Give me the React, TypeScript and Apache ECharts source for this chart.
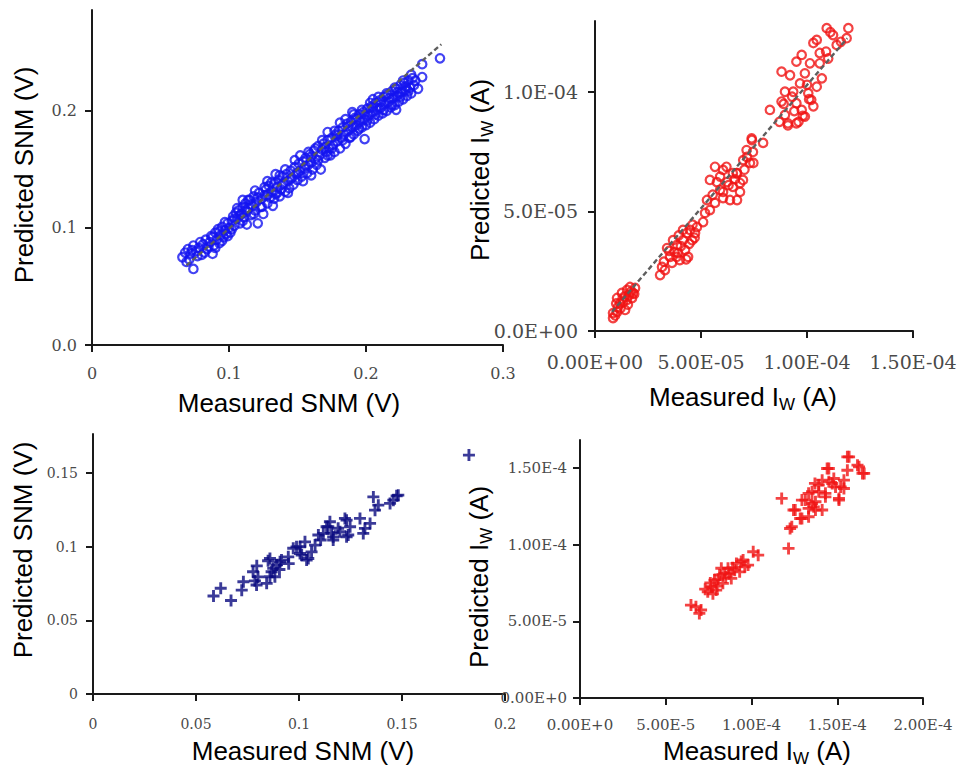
import React, { useEffect, useRef } from "react";
import * as echarts from "echarts";

// ---------- Panel 1: Measured vs Predicted SNM (V), blue circles ----------
const p1Points: [number, number][] = [
  [0.066,0.075],[0.068,0.079],[0.070,0.082],[0.071,0.073],[0.072,0.078],[0.074,0.065],[0.074,0.085],[0.076,0.080],
  [0.078,0.083],[0.080,0.077],[0.081,0.086],[0.083,0.090],[0.084,0.082],[0.086,0.088],[0.087,0.093],[0.088,0.078],
  [0.089,0.085],[0.090,0.096],[0.091,0.090],[0.092,0.099],[0.093,0.087],[0.094,0.094],[0.095,0.101],[0.096,0.092],
  [0.097,0.098],[0.098,0.095],[0.099,0.104],[0.100,0.100],[0.101,0.096],[0.102,0.106],[0.103,0.110],[0.104,0.102],
  [0.105,0.113],[0.106,0.108],[0.107,0.115],[0.108,0.104],[0.109,0.112],[0.110,0.118],[0.111,0.109],[0.112,0.121],
  [0.113,0.103],[0.113,0.114],[0.114,0.117],[0.115,0.124],[0.116,0.111],[0.117,0.119],[0.118,0.127],[0.119,0.115],
  [0.120,0.122],[0.121,0.104],[0.122,0.130],[0.123,0.118],[0.124,0.125],[0.125,0.112],[0.126,0.128],[0.127,0.133],
  [0.128,0.121],[0.129,0.136],[0.130,0.126],[0.131,0.131],[0.132,0.119],[0.133,0.138],[0.134,0.129],[0.135,0.135],
  [0.136,0.141],[0.137,0.127],[0.138,0.133],[0.139,0.144],[0.140,0.138],[0.141,0.131],[0.142,0.146],[0.143,0.140],
  [0.144,0.134],[0.145,0.149],[0.146,0.143],[0.147,0.137],[0.148,0.152],[0.149,0.146],[0.150,0.141],[0.151,0.155],
  [0.152,0.149],[0.153,0.144],[0.154,0.157],[0.155,0.151],[0.156,0.160],[0.157,0.147],[0.158,0.154],[0.159,0.163],
  [0.160,0.156],[0.161,0.150],[0.162,0.166],[0.163,0.159],[0.164,0.154],[0.165,0.170],[0.166,0.162],[0.167,0.150],
  [0.168,0.167],[0.169,0.172],[0.170,0.160],[0.171,0.165],[0.172,0.175],[0.173,0.168],[0.174,0.162],[0.175,0.177],
  [0.176,0.171],[0.177,0.165],[0.178,0.180],[0.179,0.174],[0.180,0.183],[0.181,0.168],[0.182,0.177],[0.183,0.186],
  [0.184,0.180],[0.185,0.172],[0.186,0.189],[0.187,0.183],[0.188,0.177],[0.189,0.191],[0.190,0.186],[0.191,0.180],
  [0.192,0.194],[0.193,0.188],[0.194,0.183],[0.195,0.197],[0.196,0.191],[0.197,0.186],[0.198,0.199],[0.199,0.176],
  [0.199,0.193],[0.200,0.188],[0.201,0.202],[0.202,0.196],[0.203,0.190],[0.204,0.204],[0.205,0.199],[0.206,0.193],
  [0.207,0.207],[0.208,0.201],[0.209,0.196],[0.210,0.209],[0.211,0.203],[0.212,0.198],[0.213,0.212],[0.214,0.206],
  [0.215,0.200],[0.216,0.214],[0.217,0.208],[0.218,0.203],[0.219,0.217],[0.220,0.211],[0.221,0.205],[0.222,0.201],
  [0.222,0.219],[0.223,0.213],[0.224,0.208],[0.225,0.222],[0.226,0.216],[0.227,0.210],[0.228,0.224],[0.229,0.218],
  [0.230,0.213],[0.231,0.226],[0.232,0.220],[0.233,0.215],[0.234,0.228],[0.235,0.222],[0.241,0.229],[0.241,0.240],
  [0.254,0.245],
  [0.069,0.071],[0.073,0.081],[0.077,0.076],[0.079,0.088],[0.082,0.079],[0.085,0.084],[0.088,0.092],[0.090,0.083],
  [0.093,0.097],[0.095,0.089],[0.097,0.105],[0.099,0.093],[0.102,0.099],[0.104,0.108],[0.106,0.117],[0.108,0.111],
  [0.110,0.106],[0.112,0.115],[0.114,0.124],[0.116,0.120],[0.118,0.112],[0.119,0.132],[0.121,0.126],[0.124,0.118],
  [0.126,0.135],[0.128,0.128],[0.131,0.139],[0.133,0.125],[0.135,0.130],[0.137,0.145],[0.139,0.137],[0.141,0.150],
  [0.143,0.130],[0.145,0.142],[0.148,0.158],[0.150,0.147],[0.152,0.162],[0.154,0.140],[0.156,0.153],[0.158,0.165],
  [0.160,0.161],[0.163,0.168],[0.165,0.158],[0.168,0.175],[0.170,0.169],[0.172,0.162],[0.175,0.168],[0.177,0.183],
  [0.179,0.179],[0.181,0.190],[0.183,0.175],[0.185,0.193],[0.187,0.187],[0.189,0.178],[0.191,0.197],[0.193,0.193],
  [0.195,0.185],[0.197,0.201],[0.199,0.197],[0.201,0.192],[0.203,0.207],[0.205,0.203],[0.207,0.197],[0.209,0.212],
  [0.211,0.208],[0.213,0.201],[0.215,0.215],[0.217,0.211],[0.219,0.205],[0.221,0.220],[0.223,0.216],[0.225,0.212],
  [0.227,0.226],[0.229,0.221],[0.231,0.217],[0.233,0.231],[0.236,0.226],[0.238,0.219],[0.172,0.182],[0.190,0.199],
  [0.205,0.210],[0.160,0.145],[0.128,0.140],[0.134,0.146],[0.110,0.124],
];
const p1Fit: [number, number][] = [[0.069, 0.068], [0.255, 0.257]];
const p1XTicks = [0, 0.1, 0.2, 0.3];
const p1XLabels = ["0", "0.1", "0.2", "0.3"];
const p1YTicks = [0, 0.1, 0.2];
const p1YLabels = ["0.0", "0.1", "0.2"];

// ---------- Panel 2: Measured vs Predicted I_W (A), red circles (values in 1e-5 A) ----------
const p2PointsE5: [number, number][] = [
  [0.85,0.54],[0.85,0.75],[1.04,0.8],[1.18,1.17],[1.51,1.3],[1.79,1.59],[1.65,1.84],[1.27,1.59],[1.04,1.38],[1.89,1.8],
  [1.42,0.88],[1.08,1.0],[1.51,1.72],[1.32,1.21],[1.75,1.38],[0.95,0.65],[1.2,0.95],[1.6,1.5],[1.4,1.45],[1.7,1.65],
  [1.55,1.1],[1.3,1.35],[1.0,1.15],[1.85,1.55],
  [3.07,2.34],[3.3,2.55],[3.16,2.68],[3.54,3.1],[3.92,3.26],[3.4,3.47],[3.87,3.6],[4.15,3.8],[3.68,3.8],[4.34,4.1],
  [4.48,4.23],[4.58,3.8],[4.39,3.1],[4.0,2.97],[4.25,3.39],[4.72,4.1],[4.81,4.35],[5.1,4.56],[4.15,4.23],[3.63,2.85],
  [3.75,3.3],[4.05,3.55],[4.45,3.65],[3.95,4.0],[4.6,4.45],[3.5,3.35],[4.3,3.0],[3.85,3.1],[4.7,3.9],[3.25,2.9],
  [5.19,4.94],[5.42,5.06],[5.28,5.48],[5.66,5.36],[6.04,5.56],[6.04,5.82],[6.7,5.48],[6.37,5.48],[6.84,5.82],[6.5,6.03],
  [5.75,6.23],[6.23,6.23],[6.98,6.32],[5.42,6.32],[5.66,6.87],[6.04,6.74],[6.5,6.6],[6.7,6.6],[6.84,6.19],[6.68,6.6],
  [5.9,6.46],[6.2,6.87],[7.31,7.03],[7.47,7.03],[6.99,7.15],[7.17,7.28],[7.45,7.49],[7.15,7.57],[7.4,7.99],[7.39,8.06],
  [7.93,7.87],[5.9,5.9],[6.3,6.1],[6.6,6.35],[7.05,6.75],[5.55,5.7],
  [8.25,9.25],[8.7,8.75],[9.1,8.6],[9.6,8.75],[9.1,8.69],[9.5,8.69],[8.96,9.04],[9.9,8.97],[9.8,9.0],[9.75,9.25],
  [10.3,9.4],[8.9,9.5],[9.5,9.53],[8.8,9.6],[10.2,9.67],[10.1,9.7],[8.96,10.01],[9.35,10.01],[10.06,9.95],[9.67,10.36],
  [10.46,10.22],[10.7,10.57],[9.2,10.7],[9.9,10.78],[8.8,10.85],[10.14,11.2],[10.6,11.2],[9.5,11.27],[9.75,11.55],
  [10.6,11.63],[10.9,11.69],[11.4,11.97],[10.3,12.05],[10.46,12.18],[11.23,12.38],[11.87,12.25],[10.93,12.67],
  [11.95,12.67],[11.1,12.5],[11.6,12.1],[11.0,11.4],[9.3,9.8],[10.0,10.3],[9.4,9.2],
];
const p2FitE5: [number, number][] = [[0.8, 0.8], [11.9, 12.25]];
const p2XTicks = [0, 5e-5, 1e-4, 1.5e-4];
const p2XLabels = ["0.00E+00", "5.00E-05", "1.00E-04", "1.50E-04"];
const p2YTicks = [0, 5e-5, 1e-4];
const p2YLabels = ["0.0E+00", "5.0E-05", "1.0E-04"];

// ---------- Panel 3: Measured vs Predicted SNM (V), navy crosses ----------
const p3Points: [number, number][] = [
  [0.0585,0.0665],[0.062,0.0718],[0.067,0.0635],[0.0722,0.0705],[0.073,0.0762],[0.0777,0.083],[0.0795,0.087],
  [0.0786,0.0768],[0.0801,0.0795],[0.0794,0.074],[0.0843,0.0751],[0.0859,0.092],[0.0867,0.083],[0.0859,0.0796],
  [0.0891,0.0875],[0.0883,0.0796],[0.0875,0.0853],[0.0915,0.0909],[0.0908,0.0898],[0.0948,0.0931],[0.0972,0.0989],
  [0.0988,0.0999],[0.1005,0.0954],[0.1013,0.0943],[0.1029,0.1033],[0.1061,0.0965],[0.1037,0.0909],[0.1045,0.092],
  [0.1078,0.1011],[0.1094,0.1079],[0.1118,0.109],[0.1134,0.1135],[0.1142,0.1135],[0.115,0.1169],[0.1158,0.109],
  [0.1166,0.1045],[0.1166,0.1067],[0.1199,0.1101],[0.1223,0.1192],[0.1231,0.1067],[0.1231,0.118],[0.1248,0.1135],
  [0.1239,0.1079],[0.1296,0.1192],[0.132,0.1124],[0.1312,0.109],[0.1345,0.1158],[0.1361,0.1338],[0.1369,0.1248],
  [0.1385,0.1282],[0.1442,0.1294],[0.1458,0.1316],[0.1482,0.135],[0.1474,0.1345],[0.1825,0.1622],
  [0.095,0.0885],[0.1005,0.1],[0.1105,0.1045],[0.119,0.1125],[0.085,0.0905],[0.0905,0.0845],
];
const p3XTicks = [0, 0.05, 0.1, 0.15, 0.2];
const p3XLabels = ["0", "0.05", "0.1", "0.15", "0.2"];
const p3YTicks = [0, 0.05, 0.1, 0.15];
const p3YLabels = ["0", "0.05", "0.1", "0.15"];

// ---------- Panel 4: Measured vs Predicted I_W (A), red crosses (values in 1e-5 A) ----------
const p4PointsE5: [number, number][] = [
  [6.47,6.06],[6.76,5.95],[6.96,5.52],[7.06,5.74],[7.45,6.93],[7.65,7.26],[7.94,7.04],[7.84,7.69],[8.14,8.02],
  [8.33,7.48],[8.43,8.13],[8.24,8.46],[8.63,8.46],[8.82,7.8],[9.02,8.34],[9.12,8.78],[9.31,8.23],[9.51,9.0],
  [9.61,8.56],[9.8,8.67],[10.1,9.54],[10.39,9.32],[7.6,7.5],[8.0,7.3],[8.5,7.9],[7.75,6.8],[8.9,8.5],[9.4,8.9],
  [8.7,8.1],[7.3,7.1],[8.05,7.75],
  [11.76,13.02],[12.16,9.76],[12.25,11.06],[12.35,11.17],[12.55,12.26],[12.45,12.26],[12.84,11.71],[12.94,11.71],
  [13.33,12.37],[13.14,12.91],[13.53,13.45],[13.73,12.8],[13.92,13.89],[14.12,12.26],[14.31,13.35],[14.51,14.1],
  [14.9,13.77],[14.41,14.97],[15.1,13.02],[15.39,13.67],[14.8,14.32],[15.59,15.73],[16.18,15.19],[15.59,14.86],
  [16.47,14.65],[13.7,14.0],[12.94,12.91],[13.33,11.82],[13.63,12.47],[13.33,13.35],[13.73,12.26],[14.51,14.97],
  [15.1,12.91],[15.69,15.73],[16.27,15.08],[16.57,14.65],[15.39,14.21],[15.2,13.77],[14.71,13.99],[14.12,14.21],
  [13.92,13.45],[13.53,12.69],[14.31,13.12],
];
const p4XTicks = [0, 5e-5, 1e-4, 1.5e-4, 2e-4];
const p4XLabels = ["0.00E+0", "5.00E-5", "1.00E-4", "1.50E-4", "2.00E-4"];
const p4YTicks = [0, 5e-5, 1e-4, 1.5e-4];
const p4YLabels = ["0.00E+0", "5.00E-5", "1.00E-4", "1.50E-4"];

const E5 = 1e-5;
const scaleE5 = (pts: [number, number][]) => pts.map(([x, y]) => [x * E5, y * E5]);

const PLUS = "path://M3.8,0H6.2V3.8H10V6.2H6.2V10H3.8V6.2H0V3.8H3.8Z";

function labelFor(ticks: number[], labels: string[]) {
  return (v: number) => {
    const i = ticks.findIndex((t) => Math.abs(t - v) <= Math.abs(t) * 1e-6 + 1e-15);
    return i >= 0 ? labels[i] : "";
  };
}

function makeAxis(
  gridIndex: number,
  min: number,
  max: number,
  ticks: number[],
  labels: string[],
  fontSize: number,
  margin: number
) {
  return {
    type: "value",
    gridIndex,
    min,
    max,
    splitLine: { show: false },
    axisLine: { show: true, onZero: false, lineStyle: { color: "#1a1a1a", width: 2 } },
    axisTick: { show: true, inside: false, length: 7, customValues: ticks, lineStyle: { color: "#1a1a1a", width: 2 } },
    axisLabel: {
      show: true,
      customValues: ticks,
      formatter: labelFor(ticks, labels),
      fontFamily: "DejaVu Serif",
      fontSize,
      color: "#4a4a4a",
      margin,
      hideOverlap: false,
    },
  };
}

const TITLE_FONT = "Liberation Sans";
const titleRich = {
  m: { fontFamily: TITLE_FONT, fontSize: 26, color: "#111", lineHeight: 32, verticalAlign: "middle" },
  sub: { fontFamily: TITLE_FONT, fontSize: 17, color: "#111", lineHeight: 17, verticalAlign: "bottom" },
};

function title(text: string, x: number, y: number, vertical: boolean) {
  return {
    type: "text",
    x,
    y,
    rotation: vertical ? Math.PI / 2 : 0,
    style: {
      text,
      rich: titleRich,
      textAlign: "center",
      textVerticalAlign: "middle",
      align: "center",
      verticalAlign: "middle",
    },
  };
}

export default function App() {
  const ref = useRef<HTMLDivElement>(null);
  useEffect(() => {
    if (!ref.current) return;
    const chart = echarts.init(ref.current, undefined, { renderer: "svg" });
    const option: any = {
      animation: false,
      backgroundColor: "#ffffff",
      grid: [
        { left: 92, top: 10, width: 411, height: 335 },
        { left: 595, top: 21, width: 318, height: 310 },
        { left: 93, top: 434, width: 412, height: 260 },
        { left: 580, top: 440, width: 343, height: 258 },
      ],
      xAxis: [
        makeAxis(0, 0, 0.3, p1XTicks, p1XLabels, 16, 20),
        makeAxis(1, 0, 1.5e-4, p2XTicks, p2XLabels, 19, 21),
        makeAxis(2, 0, 0.2, p3XTicks, p3XLabels, 14, 23),
        makeAxis(3, 0, 2e-4, p4XTicks, p4XLabels, 15, 19),
      ],
      yAxis: [
        makeAxis(0, 0, 0.2863, p1YTicks, p1YLabels, 16, 15),
        makeAxis(1, 0, 1.297e-4, p2YTicks, p2YLabels, 19, 17),
        makeAxis(2, 0, 0.1765, p3YTicks, p3YLabels, 14, 15),
        makeAxis(3, 0, 1.683e-4, p4YTicks, p4YLabels, 15, 13),
      ],
      series: [
        {
          type: "scatter",
          xAxisIndex: 0,
          yAxisIndex: 0,
          data: p1Points,
          symbol: "circle",
          symbolSize: 8.5,
          itemStyle: { color: "rgba(0,0,0,0)", borderColor: "#1414f0", borderWidth: 2.2 },
          z: 2,
        },
        {
          type: "line",
          xAxisIndex: 0,
          yAxisIndex: 0,
          data: p1Fit,
          symbol: "none",
          lineStyle: { color: "#5e5e5e", width: 2.4, type: [5, 3] },
          z: 3,
        },
        {
          type: "scatter",
          xAxisIndex: 1,
          yAxisIndex: 1,
          data: scaleE5(p2PointsE5),
          symbol: "circle",
          symbolSize: 8.5,
          itemStyle: { color: "rgba(0,0,0,0)", borderColor: "#f01414", borderWidth: 2.2 },
          z: 2,
        },
        {
          type: "line",
          xAxisIndex: 1,
          yAxisIndex: 1,
          data: scaleE5(p2FitE5),
          symbol: "none",
          lineStyle: { color: "#5e5e5e", width: 2.4, type: [5, 3] },
          z: 3,
        },
        {
          type: "scatter",
          xAxisIndex: 2,
          yAxisIndex: 2,
          data: p3Points,
          symbol: PLUS,
          symbolSize: 12,
          itemStyle: { color: "#0a0a80" },
        },
        {
          type: "scatter",
          xAxisIndex: 3,
          yAxisIndex: 3,
          data: scaleE5(p4PointsE5),
          symbol: PLUS,
          symbolSize: 12,
          itemStyle: { color: "#f01414" },
        },
      ],
      graphic: [
        title("{m|Predicted SNM (V)}", 24, 175, true),
        title("{m|Measured SNM (V)}", 289, 403, false),
        title("{m|Predicted I}{sub|W}{m| (A)}", 480, 170, true),
        title("{m|Measured I}{sub|W}{m| (A)}", 743, 397, false),
        title("{m|Predicted SNM (V)}", 23, 550, true),
        title("{m|Measured SNM (V)}", 303, 751, false),
        title("{m|Predicted I}{sub|W}{m| (A)}", 479, 577, true),
        title("{m|Measured I}{sub|W}{m| (A)}", 757, 751, false),
      ],
    };
    chart.setOption(option);
    return () => chart.dispose();
  }, []);
  return (
    <div
      ref={ref}
      style={{ position: "absolute", left: 0, top: 0, width: 961, height: 769, background: "#fff" }}
    />
  );
}
